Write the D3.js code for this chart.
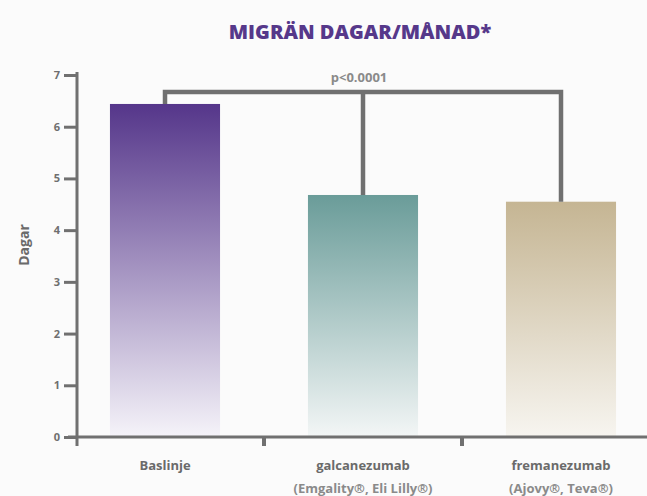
<!DOCTYPE html>
<html>
<head>
<meta charset="utf-8">
<script src="https://cdn.jsdelivr.net/npm/d3@7"></script>
<style>
  html, body { margin: 0; padding: 0; background: #fbfbfb; }
  svg { display: block; }
  text { font-family: "Open Sans", "Liberation Sans", sans-serif; }
</style>
</head>
<body>
<svg id="chart" width="647" height="496"></svg>
<script>
// Chart data
const categories = ["Baslinje", "galcanezumab", "fremanezumab"];
const subLabels = ["", "(Emgality®, Eli Lilly®)", "(Ajovy®, Teva®)"];
const values = [6.44, 4.68, 4.55];
const yTicks = [0, 1, 2, 3, 4, 5, 6, 7];
const topColors = ["#55368a", "#6a9c99", "#c5b593"];
const bottomColors = ["#f5f3f9", "#f3f6f6", "#f7f5f0"];
const titleText = "MIGRÄN DAGAR/MÅNAD*";
const yLabel = "Dagar";
const pLabel = "p<0.0001";

const svg = d3.select("#chart");
const axisColor = "#707070";

const x = d3.scaleBand()
  .domain(categories)
  .range([66, 660])
  .paddingInner(0.444)
  .paddingOuter(0.222);

const y = d3.scaleLinear().domain([0, 7]).range([437, 75]);

// gradients for the bars
const defs = svg.append("defs");
categories.forEach((c, i) => {
  const g = defs.append("linearGradient")
    .attr("id", "grad" + i)
    .attr("x1", 0).attr("y1", 0).attr("x2", 0).attr("y2", 1);
  g.append("stop").attr("offset", "0%").attr("stop-color", topColors[i]);
  g.append("stop").attr("offset", "100%").attr("stop-color", bottomColors[i]);
});

// bars
svg.append("g").selectAll("rect")
  .data(values)
  .join("rect")
  .attr("x", (d, i) => x(categories[i]))
  .attr("y", d => y(d))
  .attr("width", x.bandwidth())
  .attr("height", d => y(0) - y(d))
  .attr("fill", (d, i) => `url(#grad${i})`);

// y axis
const yAxis = svg.append("g")
  .attr("transform", "translate(77,0)")
  .call(d3.axisLeft(y).tickValues(yTicks).tickSize(13).tickPadding(4).tickFormat(d3.format("d")));
yAxis.select(".domain").remove();
yAxis.selectAll(".tick line").attr("stroke", axisColor).attr("stroke-width", 3);
yAxis.selectAll(".tick text")
  .attr("fill", "#6f6f6f").attr("font-size", 11).attr("font-weight", 700);
svg.append("line")
  .attr("x1", 77).attr("x2", 77)
  .attr("y1", y(7) - 3).attr("y2", y(0) + 9)
  .attr("stroke", axisColor).attr("stroke-width", 3);

// x axis with ticks between categories
svg.append("line")
  .attr("x1", 68).attr("x2", 647)
  .attr("y1", y(0)).attr("y2", y(0))
  .attr("stroke", axisColor).attr("stroke-width", 3);
const step = x.step();
svg.append("g").selectAll("line")
  .data(categories.slice(1))
  .join("line")
  .attr("x1", d => x(d) - (step - x.bandwidth()) / 2)
  .attr("x2", d => x(d) - (step - x.bandwidth()) / 2)
  .attr("y1", y(0)).attr("y2", y(0) + 9)
  .attr("stroke", axisColor).attr("stroke-width", 4);

// category labels
svg.append("g").selectAll("text")
  .data(categories)
  .join("text")
  .attr("x", d => x(d) + x.bandwidth() / 2)
  .attr("y", 470)
  .attr("text-anchor", "middle")
  .attr("fill", "#6a6a6a")
  .attr("font-size", 13)
  .attr("font-weight", 700)
  .text(d => d);
svg.append("g").selectAll("text")
  .data(subLabels)
  .join("text")
  .attr("x", (d, i) => x(categories[i]) + x.bandwidth() / 2)
  .attr("y", 493)
  .attr("text-anchor", "middle")
  .attr("fill", "#8a8a8a")
  .attr("font-size", 13)
  .attr("font-weight", 700)
  .text(d => d);

// y label
svg.append("text")
  .attr("transform", "translate(29,245) rotate(-90)")
  .attr("text-anchor", "middle")
  .attr("fill", "#6a6a6a")
  .attr("font-size", 14)
  .attr("font-weight", 700)
  .text(yLabel);

// significance bracket
const bracketY = 92;
const cx = i => x(categories[i]) + x.bandwidth() / 2;
svg.append("path")
  .attr("d", `M${cx(0)},${y(values[0])}V${bracketY}H${cx(2)}V${y(values[2])}M${cx(1)},${bracketY}V${y(values[1])}`)
  .attr("fill", "none")
  .attr("stroke", axisColor)
  .attr("stroke-width", 4.5);
svg.append("text")
  .attr("x", cx(1) - 4)
  .attr("y", 82)
  .attr("text-anchor", "middle")
  .attr("fill", "#8a8a8a")
  .attr("font-size", 13)
  .attr("font-weight", 700)
  .text(pLabel);

// title
svg.append("text")
  .attr("x", 360)
  .attr("y", 39)
  .attr("text-anchor", "middle")
  .attr("fill", "#56388a")
  .attr("font-size", 20)
  .attr("font-weight", 900)
  .attr("font-family", "Lato, 'Open Sans', sans-serif")
  .text(titleText);
</script>
</body>
</html>
